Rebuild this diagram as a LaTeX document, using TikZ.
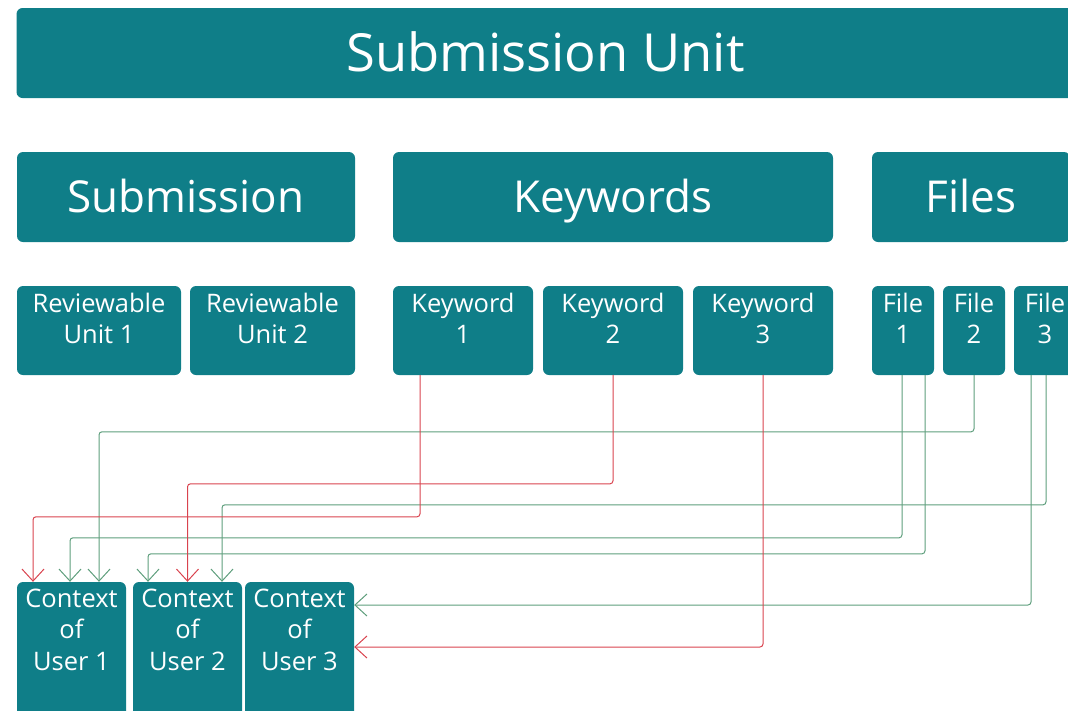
\documentclass[tikz,border=0pt]{standalone}
\usepackage{fontspec}
\setmainfont{Open Sans}
\usetikzlibrary{arrows.meta,calc}
\definecolor{teal1}{HTML}{0F7E88}
\definecolor{redl}{HTML}{D9434E}
\definecolor{greenl}{HTML}{5E9E7C}
\tikzset{
 box/.style={fill=teal1, draw=none, rounded corners=6pt, text=white, inner sep=0pt},
 bigbox/.style={box, font=\fontsize{52.5}{60}\selectfont, text height=37.5pt, text depth=0pt},
 midbox/.style={box, font=\fontsize{44}{50}\selectfont, text height=31.4pt, text depth=0pt},
 smalltext/.style={text=white, align=center, inner sep=0pt, font=\fontsize{25.5}{31.5}\selectfont},
 conn/.style={line width=1pt, rounded corners=3pt, -{Straight Barb[length=12pt,width=22pt]}},
 redc/.style={conn, draw=redl},
 greenc/.style={conn, draw=greenl},
}
\begin{document}
\begin{tikzpicture}[x=1pt,y=-1pt]
\useasboundingbox (0,0) rectangle (1068,710);
% level 1
\node[bigbox, minimum width=1058pt, minimum height=90pt] (su) at (545.5,53) {Submission Unit};
% level 2
\node[midbox, minimum width=338pt, minimum height=90pt] (sub) at (186,197) {Submission};
\node[midbox, minimum width=440pt, minimum height=90pt] (kw) at (613,197) {Keywords};
\node[midbox, minimum width=198pt, minimum height=90pt] (fil) at (971,197) {Files};
% level 3
\node[box, minimum width=164pt, minimum height=89pt, label={[smalltext, anchor=north, yshift=-7pt]north:{Reviewable\\Unit 1}}] (ru1) at (99,330.5) {};
\node[box, minimum width=165pt, minimum height=89pt, label={[smalltext, anchor=north, yshift=-7pt]north:{Reviewable\\Unit 2}}] (ru2) at (272.5,330.5) {};
\node[box, minimum width=140pt, minimum height=89pt, label={[smalltext, anchor=north, yshift=-7pt]north:{Keyword\\1}}] (k1) at (463,330.5) {};
\node[box, minimum width=140pt, minimum height=89pt, label={[smalltext, anchor=north, yshift=-7pt]north:{Keyword\\2}}] (k2) at (613,330.5) {};
\node[box, minimum width=140pt, minimum height=89pt, label={[smalltext, anchor=north, yshift=-7pt]north:{Keyword\\3}}] (k3) at (763,330.5) {};
\node[box, minimum width=62pt, minimum height=89pt, label={[smalltext, anchor=north, yshift=-7pt]north:{File\\1}}] (f1) at (903,330.5) {};
\node[box, minimum width=62pt, minimum height=89pt, label={[smalltext, anchor=north, yshift=-7pt]north:{File\\2}}] (f2) at (974,330.5) {};
\node[box, minimum width=62pt, minimum height=89pt, label={[smalltext, anchor=north, yshift=-7pt]north:{File\\3}}] (f3) at (1045,330.5) {};
% contexts
\node[box, minimum width=109pt, minimum height=148pt, label={[smalltext, anchor=north, yshift=-7pt]north:{Context\\of\\User 1}}] (c1) at (71.5,656) {};
\node[box, minimum width=109pt, minimum height=148pt, label={[smalltext, anchor=north, yshift=-7pt]north:{Context\\of\\User 2}}] (c2) at (187.5,656) {};
\node[box, minimum width=109pt, minimum height=148pt, label={[smalltext, anchor=north, yshift=-7pt]north:{Context\\of\\User 3}}] (c3) at (299.5,656) {};
% connectors
\draw[greenc] (f2.south) |- ([xshift=27.5pt,yshift=150pt]c1.north) -- ([xshift=27.5pt]c1.north);
\draw[greenc] ([xshift=1pt]f3.south) |- ([xshift=34.5pt,yshift=77pt]c2.north) -- ([xshift=34.5pt]c2.north);
\draw[greenc] ([xshift=-1pt]f1.south) |- ([xshift=-1.5pt,yshift=44pt]c1.north) -- ([xshift=-1.5pt]c1.north);
\draw[greenc] ([xshift=22pt]f1.south) |- ([xshift=-39.5pt,yshift=28pt]c2.north) -- ([xshift=-39.5pt]c2.north);
\draw[greenc] ([xshift=-14pt]f3.south) |- ([yshift=51pt]c3.east);
\draw[redc] ([xshift=-43pt]k1.south) |- ([xshift=-38.5pt,yshift=65pt]c1.north) -- ([xshift=-38.5pt]c1.north);
\draw[redc] (k2.south) |- ([yshift=98pt]c2.north) -- (c2.north);
\draw[redc] (k3.south) |- ([yshift=9pt]c3.east);
\end{tikzpicture}
\end{document}
